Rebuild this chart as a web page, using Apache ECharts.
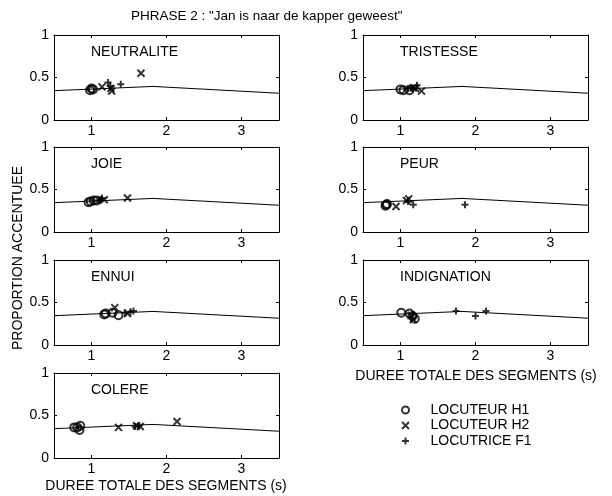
<!DOCTYPE html>
<html>
<head>
<meta charset="utf-8">
<script src="https://cdn.jsdelivr.net/npm/echarts@6/dist/echarts.min.js"></script>
<style>
html,body{margin:0;padding:0;background:#fff;}
#chart{width:612px;height:496px;}
</style>
</head>
<body>
<div id="chart"></div>
<script>
// ---- data ----
const titleText = 'PHRASE 2 : "Jan is naar de kapper geweest"';
const yAxisTitle = 'PROPORTION ACCENTUEE';
const xAxisTitle = 'DUREE TOTALE DES SEGMENTS (s)';
const panelNames = ['NEUTRALITE', 'TRISTESSE', 'JOIE', 'PEUR', 'ENNUI', 'INDIGNATION', 'COLERE'];
const speakers = ['LOCUTEUR H1', 'LOCUTEUR H2', 'LOCUTRICE F1'];
const xTicks = [1, 2, 3];
const yTicks = [0, 0.5, 1];

// reference curve (same in every panel)
const refCurveX = [0.5, 1.82, 3.5];
const refCurveY = [0.345, 0.395, 0.315];

const neutraliteH1 = [[0.98, 0.35], [1.0, 0.37], [1.02, 0.36]];
const neutraliteH2 = [[1.14, 0.39], [1.26, 0.37], [1.27, 0.34], [1.66, 0.55]];
const neutraliteF1 = [[1.22, 0.44], [1.39, 0.42], [1.25, 0.40]];

const tristesseH1 = [[1.0, 0.36], [1.04, 0.35], [1.12, 0.35]];
const tristesseH2 = [[1.17, 0.38], [1.2, 0.37], [1.28, 0.34]];
const tristesseF1 = [[1.1, 0.37], [1.15, 0.38], [1.22, 0.41]];

const joieH1 = [[0.96, 0.35], [0.99, 0.36], [1.03, 0.37], [1.07, 0.37]];
const joieH2 = [[1.17, 0.38], [1.48, 0.40]];
const joieF1 = [[1.1, 0.37], [1.12, 0.38], [1.14, 0.40]];

const peurH1 = [[0.8, 0.31], [0.81, 0.32], [0.82, 0.33]];
const peurH2 = [[0.94, 0.30], [1.08, 0.37], [1.11, 0.39]];
const peurF1 = [[1.1, 0.36], [1.17, 0.32], [1.86, 0.32]];

const ennuiH1 = [[1.17, 0.36], [1.19, 0.37], [1.28, 0.38], [1.36, 0.35]];
const ennuiH2 = [[1.31, 0.44], [1.48, 0.37]];
const ennuiF1 = [[1.45, 0.38], [1.52, 0.39], [1.56, 0.40]];

const indignationH1 = [[1.01, 0.38], [1.12, 0.37], [1.16, 0.34], [1.19, 0.31]];
const indignationH2 = [[1.14, 0.35], [1.17, 0.30]];
const indignationF1 = [[1.74, 0.40], [2.0, 0.34], [2.14, 0.40]];

const colereH1 = [[0.77, 0.36], [0.81, 0.36], [0.85, 0.38], [0.84, 0.33]];
const colereH2 = [[1.36, 0.36], [1.6, 0.38], [1.65, 0.37], [2.14, 0.43]];
const colereF1 = [[1.58, 0.37], [1.63, 0.38]];

const panelData = [
  [neutraliteH1, neutraliteH2, neutraliteF1],
  [tristesseH1, tristesseH2, tristesseF1],
  [joieH1, joieH2, joieF1],
  [peurH1, peurH2, peurF1],
  [ennuiH1, ennuiH2, ennuiF1],
  [indignationH1, indignationH2, indignationF1],
  [colereH1, colereH2, colereF1]
];

// ---- layout / style ----
const FONT = '"Liberation Sans", Arial, Helvetica, sans-serif';
const gridPos = [
  {left: 54, top: 35}, {left: 363, top: 35},
  {left: 54, top: 147}, {left: 363, top: 147},
  {left: 54, top: 260}, {left: 363, top: 260},
  {left: 54, top: 373}
];
const GW = 225, GH = 85;

const X_PATH = 'path://M0,0L10,10M10,0L0,10';
const PLUS_PATH = 'path://M5,0L5,10M0,5L10,5';
const speakerStyle = [
  {symbol: 'circle', size: 8, itemStyle: {color: 'rgba(0,0,0,0)', borderColor: '#000', borderWidth: 2}},
  {symbol: X_PATH, size: 7, itemStyle: {color: 'rgba(0,0,0,0)', borderColor: '#000', borderWidth: 2}},
  {symbol: PLUS_PATH, size: 7, itemStyle: {color: 'rgba(0,0,0,0)', borderColor: '#000', borderWidth: 2}}
];

const grids = [], xAxes = [], yAxes = [], series = [], graphics = [];
const axisLineStyle = {show: true, onZero: false, lineStyle: {color: '#000', width: 1}};

gridPos.forEach((g, i) => {
  grids.push({left: g.left, top: g.top, width: GW, height: GH, containLabel: false});
  xAxes.push({
    type: 'value', gridIndex: i, min: 0.5, max: 3.5, position: 'bottom',
    axisLine: axisLineStyle,
    axisTick: {show: true, inside: true, length: 3, customValues: xTicks, lineStyle: {color: '#000'}},
    axisLabel: {show: true, customValues: xTicks, margin: 4, color: '#000', fontSize: 14, fontFamily: FONT},
    splitLine: {show: false}
  });
  xAxes.push({
    type: 'value', gridIndex: i, min: 0.5, max: 3.5, position: 'top',
    axisLine: axisLineStyle,
    axisTick: {show: true, inside: true, length: 3, customValues: xTicks, lineStyle: {color: '#000'}},
    axisLabel: {show: false},
    splitLine: {show: false}
  });
  yAxes.push({
    type: 'value', gridIndex: i, min: 0, max: 1, interval: 0.5, position: 'left',
    axisLine: axisLineStyle,
    axisTick: {show: true, inside: true, length: 3, lineStyle: {color: '#000'}},
    axisLabel: {show: true, margin: 5, color: '#000', fontSize: 14, fontFamily: FONT,
      formatter: v => String(v)},
    splitLine: {show: false}
  });
  yAxes.push({
    type: 'value', gridIndex: i, min: 0, max: 1, interval: 0.5, position: 'right',
    axisLine: axisLineStyle,
    axisTick: {show: true, inside: true, length: 3, lineStyle: {color: '#000'}},
    axisLabel: {show: false},
    splitLine: {show: false}
  });

  series.push({
    type: 'line', xAxisIndex: 2 * i, yAxisIndex: 2 * i,
    data: refCurveX.map((x, k) => [x, refCurveY[k]]),
    symbol: 'none', silent: true, z: 1,
    lineStyle: {color: '#000', width: 1}
  });
  panelData[i].forEach((pts, s) => {
    series.push({
      type: 'scatter', name: speakers[s], xAxisIndex: 2 * i, yAxisIndex: 2 * i,
      data: pts, symbol: speakerStyle[s].symbol, symbolSize: speakerStyle[s].size,
      itemStyle: speakerStyle[s].itemStyle, z: 3, silent: true
    });
  });

  graphics.push({
    type: 'text', left: g.left + 37, top: g.top + 10,
    style: {text: panelNames[i], fill: '#000', font: '14px ' + FONT}
  });
});

graphics.push({
  type: 'text', x: 18, y: 258, rotation: Math.PI / 2,
  style: {text: yAxisTitle, fill: '#000', font: '14px ' + FONT, align: 'center', verticalAlign: 'middle'}
});
graphics.push({
  type: 'text', x: 166, y: 486,
  style: {text: xAxisTitle, fill: '#000', font: '14px ' + FONT, align: 'center', verticalAlign: 'middle'}
});
graphics.push({
  type: 'text', x: 476, y: 376,
  style: {text: xAxisTitle, fill: '#000', font: '14px ' + FONT, align: 'center', verticalAlign: 'middle'}
});

const chart = echarts.init(document.getElementById('chart'), null, {renderer: 'canvas'});
chart.setOption({
  animation: false,
  backgroundColor: '#fff',
  title: {
    text: titleText, left: 131, top: 9, padding: 0,
    textStyle: {fontSize: 13.5, fontWeight: 'normal', color: '#000', fontFamily: FONT}
  },
  legend: {
    orient: 'vertical', left: 396, top: 398,
    itemWidth: 40, itemHeight: 7, itemGap: 1.5, symbolKeepAspect: true,
    textStyle: {fontSize: 14, color: '#000', fontFamily: FONT},
    selectedMode: false,
    data: speakers.map((n, s) => ({name: n, icon: speakerStyle[s].symbol, itemStyle: speakerStyle[s].itemStyle}))
  },
  grid: grids,
  xAxis: xAxes,
  yAxis: yAxes,
  series: series,
  graphic: graphics
});
</script>
</body>
</html>
